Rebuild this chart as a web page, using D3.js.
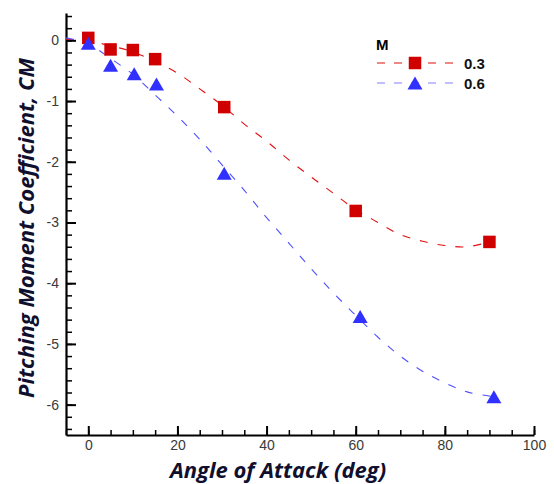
<!DOCTYPE html>
<html>
<head>
<meta charset="utf-8">
<script src="https://cdn.jsdelivr.net/npm/d3@7"></script>
<style>
  body { margin: 0; background: #fff; }
  .tick text { font-family: "Liberation Sans", Arial, sans-serif; font-size: 14px; fill: #3a3a3a; }
</style>
</head>
<body>
<svg id="chart"></svg>
<script>
// measured points, M = 0.3 and M = 0.6
var alphaLow = [0, 5, 10, 15, 30.5, 60, 90];
var cmLow = [0.04, -0.15, -0.16, -0.31, -1.1, -2.81, -3.32];
var alphaHigh = [0, 5, 10.3, 15.3, 30.5, 61, 91];
var cmHigh = [-0.05, -0.41, -0.55, -0.72, -2.19, -4.55, -5.87];

// fitted curves
var fitAlphaLow = [-5, 0, 5, 10, 15, 20, 25, 30, 35, 40, 45, 50, 55, 60, 65, 70, 75, 80, 85, 90];
var fitCmLow = [0.02, -0.01, -0.09, -0.19, -0.35, -0.54, -0.8, -1.07, -1.38, -1.66, -1.97, -2.25, -2.52, -2.79, -3.0, -3.2, -3.31, -3.38, -3.4, -3.32];
var fitAlphaHigh = [-5, 0, 5, 10, 15, 20, 25, 30, 35, 40, 45, 50, 55, 60, 65, 70, 75, 80, 85, 91];
var fitCmHigh = [0.04, -0.06, -0.3, -0.56, -0.9, -1.25, -1.63, -2.05, -2.47, -2.92, -3.34, -3.76, -4.16, -4.53, -4.89, -5.2, -5.45, -5.64, -5.79, -5.87];

var legendTitle = "M";
var seriesNames = ["0.3", "0.6"];
var xTicks = [0, 20, 40, 60, 80, 100];
var yTicks = [-6, -5, -4, -3, -2, -1, 0];

var dim = { width: 554, height: 484 };
var plot = { left: 66, right: 534, top: 13, bottom: 435 };
var red = "#d00000", redLine = "#e01010";
var blue = "#3030ff", blueLine = "#5050ff";

var x = d3.scaleLinear().domain([-5, 100]).range([plot.left, plot.right]);
var y = d3.scaleLinear().domain([-6.5, 0.45]).range([plot.bottom, plot.top]);

var svg = d3.select("#chart").attr("width", dim.width).attr("height", dim.height);

// minor ticks first, then major axes on top
svg.append("g").attr("transform", "translate(0," + plot.bottom + ")")
    .call(d3.axisBottom(x).tickValues(d3.range(-5, 101, 5)).tickSize(-5).tickSizeOuter(0).tickFormat(""))
    .call(function (g) { g.select(".domain").remove(); g.selectAll("line").attr("stroke", "#000").attr("stroke-width", 1.5); });
svg.append("g").attr("transform", "translate(" + plot.left + ",0)")
    .call(d3.axisLeft(y).tickValues(d3.range(-32, 3).map(function (d) { return d / 5; })).tickSize(-6).tickSizeOuter(0).tickFormat(""))
    .call(function (g) { g.select(".domain").remove(); g.selectAll("line").attr("stroke", "#000").attr("stroke-width", 1.5); });

var xaxis = svg.append("g").attr("transform", "translate(0," + plot.bottom + ")")
    .call(d3.axisBottom(x).tickValues(xTicks).tickSize(-9).tickSizeOuter(0).tickPadding(5));
var yaxis = svg.append("g").attr("transform", "translate(" + plot.left + ",0)")
    .call(d3.axisLeft(y).tickValues(yTicks).tickSize(-10).tickSizeOuter(0).tickPadding(7).tickFormat(d3.format("d")));
[xaxis, yaxis].forEach(function (g) {
    g.select(".domain").attr("stroke", "#000").attr("stroke-width", 2.2);
    g.selectAll(".tick line").attr("stroke", "#000").attr("stroke-width", 2);
    g.selectAll(".tick text").attr("font-family", null).attr("font-size", null);
});
yaxis.selectAll(".tick text").text(function (d) { return d === 0 ? "0" : "-" + Math.abs(d); });

// fitted dashed curves
var line = d3.line().curve(d3.curveCatmullRom)
    .x(function (d) { return x(d[0]); }).y(function (d) { return y(d[1]); });
svg.append("path").datum(d3.zip(fitAlphaLow, fitCmLow))
    .attr("d", line).attr("fill", "none").attr("stroke", redLine)
    .attr("stroke-width", 1.1).attr("stroke-dasharray", "8,10");
svg.append("path").datum(d3.zip(fitAlphaHigh, fitCmHigh))
    .attr("d", line).attr("fill", "none").attr("stroke", blueLine)
    .attr("stroke-width", 1.1).attr("stroke-dasharray", "8,10");

// markers
var sq = 12.5;
svg.selectAll("rect.low").data(d3.zip(alphaLow, cmLow)).enter().append("rect")
    .attr("class", "low")
    .attr("x", function (d) { return x(d[0]) - sq / 2; })
    .attr("y", function (d) { return y(d[1]) - sq / 2; })
    .attr("width", sq).attr("height", sq).attr("fill", red);
var tri = "M0,-6.5L7.5,6.5L-7.5,6.5Z";
svg.selectAll("path.high").data(d3.zip(alphaHigh, cmHigh)).enter().append("path")
    .attr("class", "high")
    .attr("transform", function (d) { return "translate(" + x(d[0]) + "," + y(d[1]) + ")"; })
    .attr("d", tri).attr("fill", blue);

// legend
var legend = svg.append("g").attr("font-family", "Liberation Sans, Arial, sans-serif").attr("font-weight", "bold");
legend.append("text").attr("x", 376).attr("y", 50).attr("font-size", 15).text(legendTitle);
var rows = legend.selectAll("g.row").data(seriesNames).enter().append("g")
    .attr("class", "row")
    .attr("transform", function (d, i) { return "translate(0," + (63 + i * 20) + ")"; });
rows.append("line").attr("x1", 377).attr("x2", 453).attr("y1", 0).attr("y2", 0)
    .attr("stroke", function (d, i) { return i === 0 ? redLine : "#8080ff"; })
    .attr("stroke-width", 1.2).attr("stroke-dasharray", "8,9");
rows.each(function (d, i) {
    var g = d3.select(this);
    if (i === 0) {
        g.append("rect").attr("x", 415 - sq / 2).attr("y", -sq / 2).attr("width", sq).attr("height", sq).attr("fill", red);
    } else {
        g.append("path").attr("transform", "translate(415,0)").attr("d", tri).attr("fill", blue);
    }
});
rows.append("text").attr("x", 464).attr("y", 6).attr("font-size", 15).attr("fill", "#111").text(function (d) { return d; });

// axis titles
svg.append("text")
    .attr("x", 278).attr("y", 478)
    .attr("text-anchor", "middle")
    .attr("font-family", "'Open Sans', Lato, sans-serif")
    .attr("font-weight", "bold").attr("font-style", "italic")
    .attr("font-size", 22).attr("fill", "#10102e")
    .text("Angle of Attack (deg)");
svg.append("text")
    .attr("transform", "translate(34,228) rotate(-90)")
    .attr("text-anchor", "middle")
    .attr("font-family", "'Open Sans', Lato, sans-serif")
    .attr("font-weight", "bold").attr("font-style", "italic")
    .attr("font-size", 22).attr("fill", "#10102e")
    .text("Pitching Moment Coefficient, CM");
</script>
</body>
</html>
